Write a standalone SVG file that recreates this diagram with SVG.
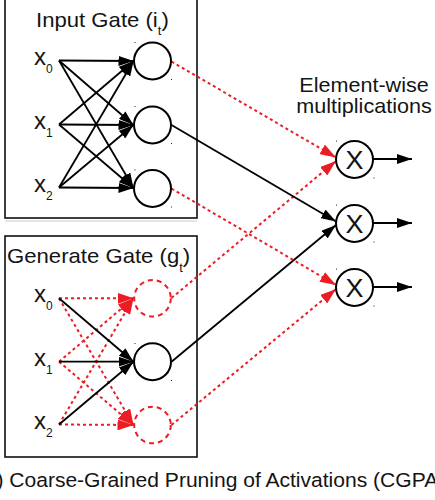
<svg xmlns="http://www.w3.org/2000/svg" width="435" height="500" viewBox="0 0 435 500">
<defs>
<style>
text{font-family:"Liberation Sans",Arial,sans-serif;fill:#141414}
.title{font-size:20.5px}
.ml{font-size:20px}
.sub{font-size:12px}
.xl{font-size:24px}
.mx{font-size:25px}
.box{fill:none;stroke:#111;stroke-width:1.6}
.node{fill:#fff;stroke:#000;stroke-width:2}
.dnode{fill:#fff;stroke:#ed1c24;stroke-width:2;stroke-dasharray:5 4}
.blk{stroke:#000;stroke-width:1.8;fill:none}
.red{stroke:#ed1c24;stroke-width:2;stroke-dasharray:3 3;fill:none}
.dot{fill:#222}
</style>
<marker id="ab" markerWidth="15" markerHeight="10" refX="15" refY="5" orient="auto" markerUnits="userSpaceOnUse"><path d="M0,0 L15,5 L0,10 z" fill="#000"/></marker>
<marker id="ar" markerWidth="16" markerHeight="11" refX="16" refY="5.5" orient="auto" markerUnits="userSpaceOnUse"><path d="M0,0 L16,5.5 L0,11 z" fill="#ed1c24"/></marker>
</defs>
<rect width="435" height="500" fill="#fff"/>

<line x1="5" y1="221" x2="197" y2="221" stroke="#dcdcdc" stroke-width="1.5"/>

<g id="input-gate">
<rect class="box" x="5" y="-5" width="192" height="223"/>
<text class="title" transform="translate(36,27) scale(1.08,1)">Input Gate (i<tspan class="sub" dy="8">t</tspan><tspan dy="-8">)</tspan></text>
</g>
<g id="generate-gate">
<rect class="box" x="5" y="236" width="192" height="221"/>
<text class="title" transform="translate(7,263) scale(1.08,1)">Generate Gate (g<tspan class="sub" dy="9">t</tspan><tspan dy="-9">)</tspan></text>
</g>

<g id="inputs-i">
<text class="xl" x="34" y="65">x<tspan class="sub" dy="8">0</tspan></text>
<text class="xl" x="34" y="129">x<tspan class="sub" dy="8">1</tspan></text>
<text class="xl" x="34" y="192">x<tspan class="sub" dy="8">2</tspan></text>
</g>
<g id="inputs-g">
<text class="xl" x="34" y="302">x<tspan class="sub" dy="8">0</tspan></text>
<text class="xl" x="34" y="366">x<tspan class="sub" dy="8">1</tspan></text>
<text class="xl" x="34" y="429">x<tspan class="sub" dy="8">2</tspan></text>
</g>

<g id="connectors">
<line class="blk" x1="59" y1="60.5" x2="133.5" y2="61" marker-end="url(#ab)"/>
<line class="blk" x1="59" y1="60.5" x2="133.5" y2="125" marker-end="url(#ab)"/>
<line class="blk" x1="59" y1="60.5" x2="133.5" y2="188" marker-end="url(#ab)"/>
<line class="blk" x1="59" y1="124.5" x2="133.5" y2="61" marker-end="url(#ab)"/>
<line class="blk" x1="59" y1="124.5" x2="133.5" y2="125" marker-end="url(#ab)"/>
<line class="blk" x1="59" y1="124.5" x2="133.5" y2="188" marker-end="url(#ab)"/>
<line class="blk" x1="59" y1="187.5" x2="133.5" y2="61" marker-end="url(#ab)"/>
<line class="blk" x1="59" y1="187.5" x2="133.5" y2="125" marker-end="url(#ab)"/>
<line class="blk" x1="59" y1="187.5" x2="133.5" y2="188" marker-end="url(#ab)"/>
<line class="red" x1="59" y1="298.3" x2="133.5" y2="298.3" marker-end="url(#ar)"/>
<line class="red" x1="59" y1="298.3" x2="133.5" y2="425" marker-end="url(#ar)"/>
<line class="red" x1="59" y1="361.7" x2="133.5" y2="298.3" marker-end="url(#ar)"/>
<line class="red" x1="59" y1="361.7" x2="133.5" y2="425" marker-end="url(#ar)"/>
<line class="red" x1="59" y1="424.5" x2="133.5" y2="298.3" marker-end="url(#ar)"/>
<line class="red" x1="59" y1="424.5" x2="133.5" y2="425" marker-end="url(#ar)"/>
<line class="blk" x1="59" y1="298.3" x2="133.5" y2="361.7" marker-end="url(#ab)"/>
<line class="blk" x1="59" y1="361.7" x2="133.5" y2="361.7" marker-end="url(#ab)"/>
<line class="blk" x1="59" y1="424.5" x2="133.5" y2="361.7" marker-end="url(#ab)"/>
<line class="red" x1="171.5" y1="61.5" x2="336" y2="157.5" marker-end="url(#ar)"/>
<line class="red" x1="171.5" y1="298" x2="336" y2="161" marker-end="url(#ar)"/>
<line class="blk" x1="171.5" y1="125" x2="336" y2="221.5" marker-end="url(#ab)"/>
<line class="blk" x1="171.5" y1="361.7" x2="336" y2="225" marker-end="url(#ab)"/>
<line class="red" x1="171.5" y1="188.5" x2="336" y2="285" marker-end="url(#ar)"/>
<line class="red" x1="171.5" y1="425" x2="336" y2="289" marker-end="url(#ar)"/>
<line class="blk" x1="373" y1="159" x2="412" y2="159" marker-end="url(#ab)"/>
<line class="blk" x1="373" y1="223" x2="412" y2="223" marker-end="url(#ab)"/>
<line class="blk" x1="373" y1="287" x2="412" y2="287" marker-end="url(#ab)"/>
</g>

<g id="i1"><circle class="node" cx="152.5" cy="61" r="18.5"/><rect class="dot" x="134.5" y="42" width="1" height="1"/><rect class="dot" x="171" y="79" width="1" height="1"/></g>
<g id="i2"><circle class="node" cx="152.5" cy="125" r="18.5"/><rect class="dot" x="134.5" y="106" width="1" height="1"/><rect class="dot" x="171" y="143" width="1" height="1"/></g>
<g id="i3"><circle class="node" cx="152.5" cy="188.5" r="18.5"/><rect class="dot" x="134.5" y="169.5" width="1" height="1"/><rect class="dot" x="171" y="206.5" width="1" height="1"/></g>

<g id="g1"><circle class="dnode" cx="152.5" cy="298.3" r="18.3"/></g>
<g id="g2"><circle class="node" cx="152.5" cy="361.7" r="18.5"/><rect class="dot" x="134.5" y="343" width="1" height="1"/><rect class="dot" x="171" y="380" width="1" height="1"/></g>
<g id="g3"><circle class="dnode" cx="152.5" cy="425" r="18.3"/></g>

<g id="m1"><circle class="node" cx="354.5" cy="159.5" r="18.5"/><text class="mx" text-anchor="middle" transform="translate(354.5,168.5) scale(1.08,1)">X</text><rect class="dot" x="336" y="140.5" width="1" height="1"/><rect class="dot" x="373.5" y="177.5" width="1" height="1"/></g>
<g id="m2"><circle class="node" cx="354.5" cy="223.5" r="18.5"/><text class="mx" text-anchor="middle" transform="translate(354.5,232.5) scale(1.08,1)">X</text><rect class="dot" x="336" y="204.5" width="1" height="1"/><rect class="dot" x="373.5" y="241.5" width="1" height="1"/></g>
<g id="m3"><circle class="node" cx="354.5" cy="287.5" r="18.5"/><text class="mx" text-anchor="middle" transform="translate(354.5,296.5) scale(1.08,1)">X</text><rect class="dot" x="336" y="268.5" width="1" height="1"/><rect class="dot" x="373.5" y="305.5" width="1" height="1"/></g>

<g id="labels">
<text class="ml" text-anchor="middle" transform="translate(364,91.5) scale(1.08,1)">Element-wise</text>
<text class="ml" text-anchor="middle" transform="translate(364,113) scale(1.08,1)">multiplications</text>
<text font-size="19.5" transform="translate(-22.3,487) scale(1.08,1)">(b) Coarse-Grained Pruning of Activations (CGPA)</text>
</g>
</svg>
